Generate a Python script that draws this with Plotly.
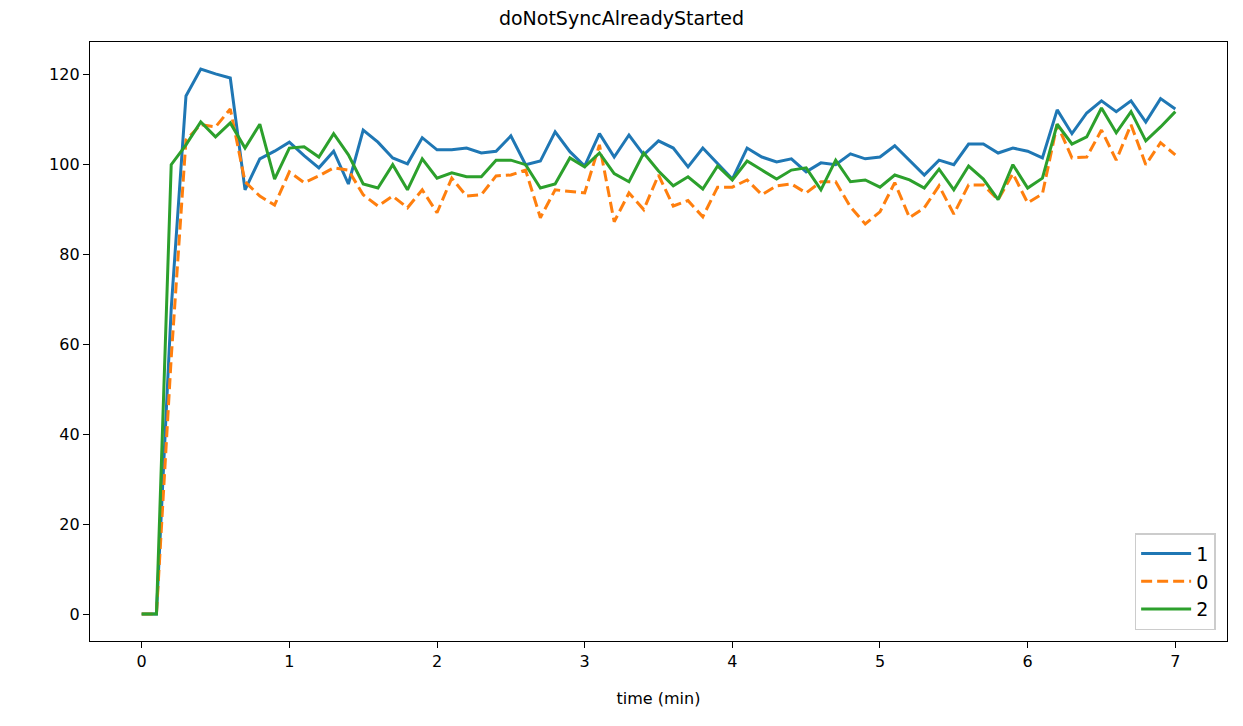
import plotly.graph_objects as go

time_min = [round(i * 0.1, 1) for i in range(71)]

series_1 = [0, 0, 68, 115.3, 121.3, 120.2, 119.3, 94.4, 101.3, 103, 105, 102, 99.3, 103, 95.7,
            107.7, 105, 101.5, 100.2, 106, 103.3, 103.3, 103.7, 102.6, 103, 106.4, 100, 100.8,
            107.3, 102.9, 99.7, 106.9, 101.7, 106.6, 102.2, 105.3, 103.7, 99.5, 103.7, 100.2,
            96.8, 103.7, 101.7, 100.6, 101.3, 98.4, 100.4, 100, 102.4, 101.3, 101.7, 104.2, 101,
            97.7, 101, 100, 104.6, 104.6, 102.6, 103.7, 103, 101.5, 112.2, 106.9, 111.5, 114.2,
            111.8, 114.2, 109.5, 114.7, 112.4]

series_0 = [0, 0, 57, 105.5, 108.9, 108.4, 112.4, 96.2, 93, 91, 98.4, 96, 97.5, 99.3, 98.8,
            93.3, 90.8, 93, 90.4, 94.4, 89.3, 97, 93, 93.3, 97.5, 97.7, 98.8, 88.2, 94.4, 94,
            93.7, 104.4, 87.3, 93.7, 90, 97.7, 90.8, 92, 88.4, 95, 95, 96.6, 93.3, 95.3, 95.7,
            93.7, 96.2, 96.2, 90.6, 86.8, 89.5, 96, 88.2, 90.4, 95.3, 89, 95.5, 95.5, 92.2, 98,
            91.5, 93.5, 109, 101.5, 101.7, 107.7, 101, 108.9, 100, 104.9, 102.2]

series_2 = [0, 0, 100, 104.4, 109.5, 106.2, 109.3, 103.7, 109, 96.8, 103.7, 104, 101.7, 106.9,
            102.2, 95.7, 94.8, 100, 94.4, 101.3, 97, 98.2, 97.3, 97.3, 101, 101, 100, 94.8, 95.7,
            101.5, 99.5, 102.6, 98, 96.2, 102.6, 98.6, 95.3, 97.3, 94.6, 99.7, 96.6, 100.8, 98.8,
            96.8, 98.8, 99.3, 94.4, 101, 96.2, 96.6, 95, 97.7, 96.6, 94.8, 99, 94.4, 99.7, 96.8,
            92.2, 100, 94.8, 97, 109, 104.6, 106.2, 112.6, 107.1, 111.8, 105.3, 108.4, 111.8]

x_ticks = [0, 1, 2, 3, 4, 5, 6, 7]
y_ticks = [0, 20, 40, 60, 80, 100, 120]

font = "DejaVu Sans, Liberation Sans, sans-serif"

fig = go.Figure()
fig.add_trace(go.Scatter(x=time_min, y=series_1, mode="lines", name="1",
                         line=dict(color="#1f77b4", width=3)))
fig.add_trace(go.Scatter(x=time_min, y=series_0, mode="lines", name="0",
                         line=dict(color="#ff7f0e", width=3, dash="11px,5px")))
fig.add_trace(go.Scatter(x=time_min, y=series_2, mode="lines", name="2",
                         line=dict(color="#2ca02c", width=3)))

axis_common = dict(showgrid=False, zeroline=False, showline=True, linecolor="black",
                   linewidth=1.4, mirror=True, ticks="outside", ticklen=6, tickwidth=1.4,
                   tickcolor="black", tickfont=dict(family=font, size=16, color="black"))

fig.update_layout(
    width=1243, height=726,
    paper_bgcolor="white", plot_bgcolor="white",
    margin=dict(l=90, r=16, t=42, b=85),
    title=dict(text="doNotSyncAlreadyStarted", x=0.5, xanchor="center", y=0.975, yanchor="middle",
               font=dict(family=font, size=19, color="black")),
    xaxis=dict(range=[-0.35, 7.35], tickvals=x_ticks, ticktext=[str(v) for v in x_ticks],
               title=dict(text="time (min)", font=dict(family=font, size=16, color="black"), standoff=22),
               **axis_common),
    yaxis=dict(range=[-6.0, 127.3], tickvals=y_ticks, ticktext=[str(v) for v in y_ticks],
               **axis_common),
    legend=dict(x=0.99, y=0.018, xanchor="right", yanchor="bottom",
                bgcolor="rgba(255,255,255,0.8)", bordercolor="#cccccc", borderwidth=1.5,
                font=dict(family=font, size=19, color="black"), itemwidth=50),
    showlegend=True,
)

fig.write_html("out.html", config={"displayModeBar": False},
               post_script="document.body.style.margin='0';")
